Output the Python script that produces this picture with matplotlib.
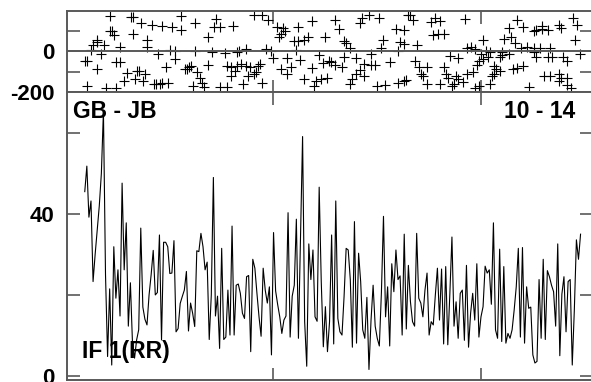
import numpy as np
import matplotlib.pyplot as plt

plt.rcParams['font.family'] = ['Liberation Sans', 'DejaVu Sans']
plt.rcParams['font.weight'] = 'bold'

baseline = 'GB - JB'
stokes = 'IF 1(RR)'
scan = '10 - 14'

# amplitude per integration (bottom panel)
amp = [45.5, 51.8, 39.2, 43.2, 23.3, 30, 36, 42, 50, 65.4, 25, 4.8, 21.5, 2.7, 31.9, 19.2,
       26.2, 14.8, 47.6, 26.2, 37.8, 12.3, 23, 8.1, 4.4, 8.9, 11.4, 36.5, 17, 14, 12.6, 20,
       25, 31, 20, 20.6, 34.8, 8.9, 33, 33, 31.9, 25.3, 25.4, 33.4, 10.9, 11.7,
       17.9, 19.6, 21.2, 25.8, 11.1, 18, 15.5, 12.2, 30.9, 30.7, 35.2, 31.9, 26.2, 28.1, 9, 20,
       49, 14.8, 19.7, 6.8, 31.5, 9, 9.6, 21.2, 10.1, 37, 10.1, 22.4, 22.7, 20.4, 15.5, 14.2,
       24.5, 24.8, 6, 28.8, 26.6, 20.4, 14.6, 9.8, 26.6, 21.2, 18, 22, 5.2, 35.4, 21, 17.6,
       14.6, 10.5, 13.8, 14.8, 40.3, 9.6, 19.7, 22.4, 38.7, 9.3, 33.6, 59.1, 13.4, 2.4, 32.6, 23.8,
       31.1, 14.6, 13.5, 46.6, 23.3, 7.2, 17.1, 6, 13.4, 34.8, 7.9, 43.2, 14.2, 10.9, 10.1, 19.6,
       31.5, 31.1, 23.8, 7.1, 38.1, 8.1, 30.3, 23.3, 11.4, 9.3, 19.4, 1.6, 13.8, 22.4, 12.3, 9.3,
       7.4, 20.6,
       39.4, 14.6, 22, 7.4, 27.7, 20.8, 31.1, 23.8, 24.7, 10.1, 35, 11.6, 27.3, 18.3, 13.4, 12.3,
       35.2, 19.2, 18, 14.6, 21.2, 25.4, 10.1, 13.4, 12.6, 20, 26.6, 13.8, 26.4, 7.9, 27, 7.7,
       20.4, 34.3, 12.3, 18.3, 9.3, 20.4, 21.2, 8.8, 27.3, 7.1, 15.5, 20.4, 13.8, 27.7, 9.6, 14.6,
       17.1, 27.1, 25.4, 26.2, 17.7, 37.8, 11.4, 9.3, 31.3, 8.5, 27, 8.1, 10.5, 9.3, 11.4, 16.3,
       22, 31.5, 9.6, 31.7, 8.1, 22, 16.7, 17, 5.2, 3.2, 3.6, 23.8, 9.3, 28.8, 9, 26,
       24.5, 22.4, 20.8, 12.3, 32.6, 5, 20.2, 24.5, 10.9, 23.3, 23.8, 2.7, 16.3, 33.6, 28.8, 35]
amp_time = np.linspace(0.10, 2.475, len(amp))

# phase points (top panel)
ph_time = [0.22, 0.32, 0.33, 0.37, 0.42, 0.47, 0.52, 0.56, 0.56, 0.63, 0.22, 0.23, 0.24, 0.33,
           0.16, 0.16, 0.14, 0.13, 0.19, 0.27, 0.40, 0.40, 0.45, 0.51, 0.53, 0.53, 0.63, 0.10,
           0.11, 0.18, 0.16, 0.25, 0.27, 0.30, 0.35, 0.36, 0.39, 0.49, 0.58, 0.59, 0.64, 0.29,
           0.34, 0.38, 0.43, 0.44, 0.46, 0.47, 0.50, 0.11, 0.20, 0.25, 0.62,
           0.73, 0.72, 0.75, 0.81, 0.69, 0.71, 0.77, 0.83, 0.69, 0.78, 0.80, 0.65, 0.80, 0.66,
           0.67, 0.75, 0.78, 0.61, 0.60,
           0.91, 0.95, 0.98, 1.02, 1.05, 1.06, 1.12, 1.19, 1.30, 1.32, 1.42, 1.43, 1.46, 1.51,
           1.65, 1.03, 1.04, 1.10, 1.12, 1.15, 1.17, 1.25, 1.34, 1.35, 1.37, 1.53, 1.52, 1.59,
           1.63, 1.61, 1.60, 0.84, 0.87, 0.97, 0.99, 1.11, 1.00, 1.07, 1.13, 1.22, 1.27, 1.28,
           1.30, 1.24, 1.33, 1.34, 1.40, 1.47, 1.44, 1.47, 1.49, 1.56, 0.83, 0.85, 0.87, 0.89,
           0.93, 0.94, 0.82, 0.88, 0.91, 0.92, 1.04, 1.07, 1.09, 1.19, 1.15, 1.21, 1.23, 1.26,
           1.20, 1.38, 1.40, 1.42, 1.44, 1.37, 0.86, 0.95, 1.50, 1.54, 1.60, 1.63,
           1.66, 1.67, 1.76, 1.78, 1.80, 1.92, 1.77, 1.79, 1.82, 2.01, 2.13, 2.17, 2.20, 2.25,
           2.26, 2.29, 2.29, 2.32, 2.37, 2.38, 2.44, 2.46, 2.11, 2.14, 2.16, 2.19, 2.22, 2.25,
           2.28, 2.33, 2.45, 1.69, 1.63, 1.93, 1.95, 1.97, 2.00, 2.02, 2.04, 2.10, 2.13, 2.25,
           2.26, 2.32, 2.34, 2.39, 2.41, 2.47, 1.85, 1.89, 1.99, 2.01, 2.03, 2.06, 2.09, 2.10,
           1.68, 1.70, 1.74, 1.82, 1.98, 2.07, 2.09, 2.15, 2.17, 2.20, 1.71, 1.72, 1.83, 1.88,
           1.93, 1.96, 1.84, 1.89, 1.91, 2.05, 2.06, 2.30, 2.33, 2.37, 2.38, 2.41, 2.37, 1.64,
           1.74, 1.80, 1.86, 1.87, 1.97, 1.99, 2.04, 2.23, 2.41, 2.43]
phase = [172, 167, 167, 136, 127, 122, 119, 172, 103, 139, 98, 98, 78, 86,
         57, 45, 28, 7, 32, 20, 53, 20, -13, 7, 3, -38, 0, -48,
         -48, -16, -87, -51, -51, -109, -98, -98, -112, -79, -86, -86, -104, -145,
         -137, -145, -159, -159, -159, -155, -155, -170, -180, -180, -170,
         157, 119, 119, 124, 69, -5, -10, -5, -66, -71, -79, -129, -124, -154,
         -175, -175, -175, -71, -79,
         177, 177, 152, 119, 114, 98, 119, 147, 152, 108, 136, 164, 177, 164,
         177, 69, 86, 48, 48, 57, 69, 69, 48, 42, 15, 57, 15, 108,
         103, 45, 0, 0, 12, 12, 3, 7, -33, -33, -41, -21, -46, -54,
         -66, -58, -79, -30, -33, -13, -62, -67, -67, -54, -71, -62, -74, -79,
         -71, -62, -96, -120, -112, -104, -87, -112, -76, -84, -134, -145, -137, -129,
         -170, -134, -112, -91, -120, -162, -162, -154, -170, -167, -154, -145,
         177, 152, 144, 164, 149, 157, 81, 86, 86, 57, 114, 152, 119, 98,
         103, 111, 124, 103, 127, 114, 161, 127, 62, 69, 42, 15, 20, 15,
         15, 15, 57, 28, 37, 15, 20, 12, -13, -1, -5, -5, -13, -5,
         -30, -30, -30, -30, -46, -13, -25, -35, -46, -38, -30, -71, -30, -21,
         -46, -79, -79, -79, -67, -87, -96, -87, -84, -71, -112, -120, -112, -120,
         -112, -104, -129, -137, -150, -120, -112, -120, -120, -112, -129, -129, -145, -140,
         -162, -162, -170, -162, -179, -170, -162, -175, -167, -179]

frame = '0.35'

fig = plt.figure(figsize=(5.91, 3.82), dpi=100)
# right frame edge sits just past the picture border, as in the original
ax1 = fig.add_axes([0.1134, 0.7592, 0.888, 0.2120])
ax2 = fig.add_axes([0.1134, 0.0052, 0.888, 0.7540])

ax1.plot(ph_time, phase, '+', color='black', markersize=6.5, markeredgewidth=0.8)
ax1.axhline(0, color=frame, linewidth=1.4)
ax1.set_ylim(-200, 197)
ax1.set_yticks([-200, -100, 0, 100])
ax1.set_yticklabels(['-200', '', '0', ''])

ax2.plot(amp_time, amp, color='black', linewidth=0.8)
ax2.set_ylim(-1, 70.1)
ax2.set_yticks([0, 20, 40, 60])
ax2.set_yticklabels(['0', '', '40', ''])

for ax in (ax1, ax2):
    ax.set_xlim(0.015, 2.529)
    ax.set_xticks([1, 2])
    ax.set_xticklabels([])
    ax.tick_params(direction='in', length=9, width=1.2, color=frame,
                   top=True, right=True, labelsize=16, pad=9)
    for s in ax.spines.values():
        s.set_color(frame)
        s.set_linewidth(1.4)

ax2.text(0.0115, 0.91, baseline, transform=ax2.transAxes, fontsize=16.5,
         fontweight='bold', va='baseline', ha='left')
ax2.text(0.968, 0.91, scan, transform=ax2.transAxes, fontsize=16.5,
         fontweight='bold', va='baseline', ha='right')
ax2.text(0.0287, 0.075, stokes, transform=ax2.transAxes, fontsize=16.5,
         fontweight='bold', va='baseline', ha='left')

plt.savefig('out.png', dpi=100)
